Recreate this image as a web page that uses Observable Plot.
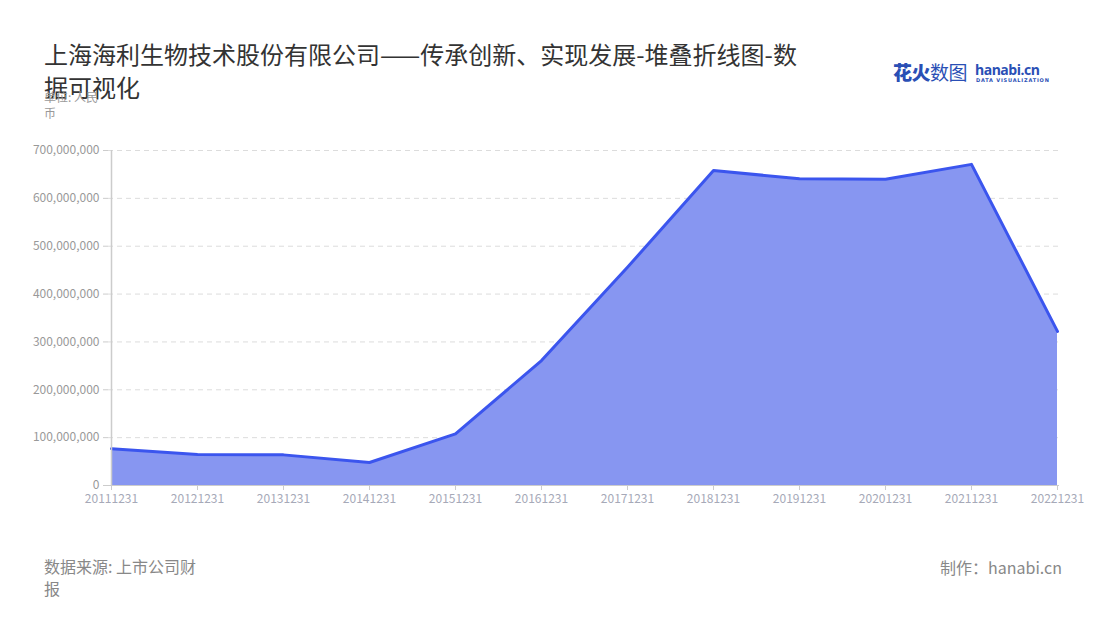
<!DOCTYPE html>
<html>
<head>
<meta charset="utf-8">
<script src="https://cdn.jsdelivr.net/npm/d3@7"></script>
<script src="https://cdn.jsdelivr.net/npm/@observablehq/plot@0.6"></script>
<style>
  html, body { margin: 0; padding: 0; background: #fff; }
  body { font-family: "Noto Sans CJK SC", "Noto Sans", sans-serif; }
  #page { position: relative; width: 1100px; height: 620px; overflow: hidden; }
  #chart { position: absolute; left: 0; top: 0; }
  .title { position: absolute; left: 44px; top: 37px; width: 762px; font-size: 24px; line-height: 33px; color: #333; }
  .unit { position: absolute; left: 44px; top: 89px; width: 66px; font-size: 12px; line-height: 16px; color: #999; }
  .logo { position: absolute; left: 893px; top: 58px; height: 30px; }
  .logo .cn { position: absolute; left: 0; top: 0; font-size: 19px; font-weight: 900; color: #2a4fb5; white-space: nowrap; line-height: 28px; letter-spacing: -0.5px; }
  .logo .cn .light { font-weight: 400; }
  .logo .en { position: absolute; left: 82px; top: 3px; font-size: 14px; font-weight: 700; color: #2a4fb5; white-space: nowrap; line-height: 18px; font-family: "Open Sans", sans-serif; letter-spacing: -0.5px; }
  .logo .sub { position: absolute; left: 83px; top: 19px; font-size: 5px; font-weight: 700; color: #2a4fb5; white-space: nowrap; letter-spacing: 0.8px; font-family: "DejaVu Sans", sans-serif; }
  .source { position: absolute; left: 44px; top: 555px; width: 156px; font-size: 16px; line-height: 22px; color: #888; }
  .maker { position: absolute; right: 38px; top: 556px; font-size: 16px; line-height: 22px; color: #888; white-space: nowrap; }
</style>
</head>
<body>
<div id="page">
  <div id="chart"></div>
  <div class="title">上海海利生物技术股份有限公司——传承创新、实现发展-堆叠折线图-数据可视化</div>
  <div class="unit">单位: 人民币</div>
  <div class="logo"><span class="cn">花火<span class="light">数图</span></span><span class="en">hanabi.cn</span><span class="sub">DATA VISUALIZATION</span></div>
  <div class="source">数据来源: 上市公司财报</div>
  <div class="maker">制作：hanabi.cn</div>
</div>
<script>
const dates = ["20111231","20121231","20131231","20141231","20151231","20161231","20171231","20181231","20191231","20201231","20211231","20221231"];
const values = [77000000, 65000000, 64000000, 48000000, 108000000, 261000000, 456000000, 658000000, 641000000, 640000000, 671000000, 322000000];
const yTicks = [0, 100000000, 200000000, 300000000, 400000000, 500000000, 600000000, 700000000];

const data = dates.map((d, i) => ({date: d, value: values[i]}));

const chart = Plot.plot({
  width: 1100,
  height: 620,
  marginLeft: 108,
  marginRight: 41,
  marginTop: 150,
  marginBottom: 135,
  style: {fontFamily: "'Noto Sans CJK SC', 'Noto Sans', sans-serif", fontSize: "12px", background: "transparent"},
  x: {type: "point", domain: dates, padding: 0},
  y: {domain: [0, 700000000]},
  marks: [
    Plot.ruleY(yTicks.slice(1), {stroke: "#dcdcdc", strokeDasharray: "5,4"}),
    Plot.areaY(data, {x: "date", y: "value", fill: "#8796f1"}),
    Plot.lineY(data, {x: "date", y: "value", stroke: "#3b55ee", strokeWidth: 3, strokeLinejoin: "round"}),
    Plot.ruleY([0], {stroke: "#cccccc"}),
    Plot.ruleX([dates[0]], {stroke: "#cccccc", strokeWidth: 1.5}),
    Plot.axisY({ticks: yTicks, tickFormat: d3.format(","), tickSize: 5, stroke: "#cccccc", fill: "#999999", tickPadding: 4, label: null}),
    Plot.axisX({tickSize: 5, stroke: "#cccccc", fill: "#a6a9b8", tickPadding: 4, label: null})
  ]
});
document.getElementById("chart").appendChild(chart);
</script>
</body>
</html>
